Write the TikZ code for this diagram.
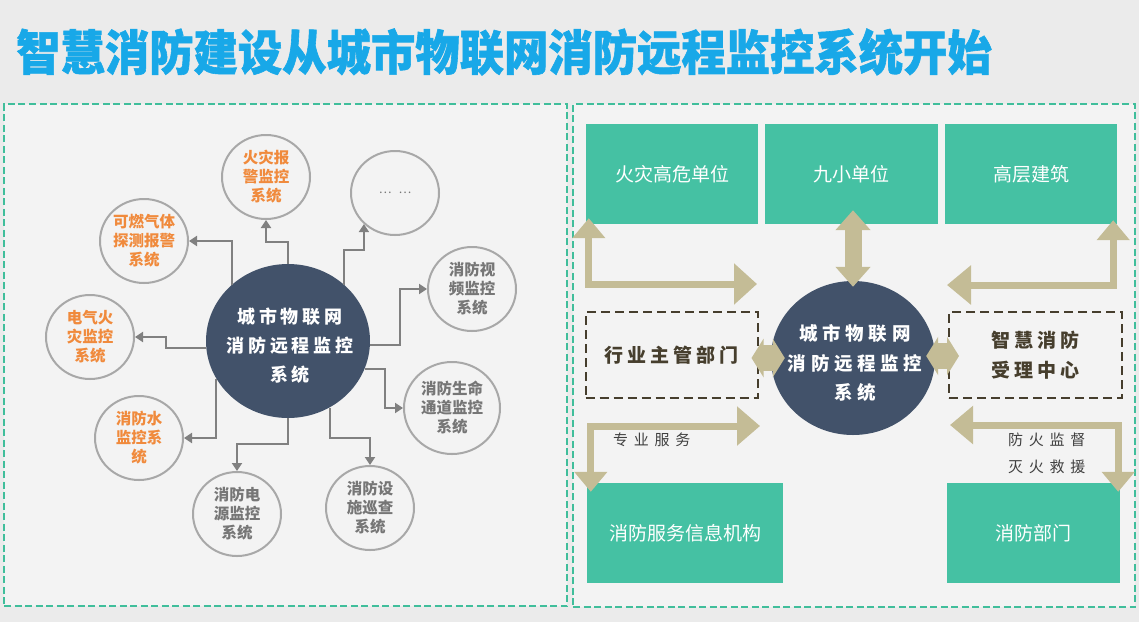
\documentclass[tikz,border=0pt]{standalone}
\usepackage{fontspec}
\setmainfont{Noto Sans CJK SC}
\newfontfamily\cjk{Noto Sans CJK SC}
\newfontfamily\titlefont[FakeStretch=0.92,BoldFeatures={FakeBold=1.2}]{Noto Sans CJK SC}
\newfontfamily\cjkspA[LetterSpace=22]{Noto Sans CJK SC}
\newfontfamily\cjkspB[LetterSpace=25]{Noto Sans CJK SC}
\newfontfamily\cjkspC[LetterSpace=21]{Noto Sans CJK SC}
\newfontfamily\cjkspD[LetterSpace=38]{Noto Sans CJK SC}
\usetikzlibrary{arrows.meta,shapes.geometric,calc}
\definecolor{bgc}{RGB}{235,235,235}
\definecolor{panelbg}{RGB}{243,243,243}
\definecolor{titleblue}{RGB}{24,168,232}
\definecolor{tealc}{RGB}{69,193,163}
\definecolor{teald}{RGB}{64,190,155}
\definecolor{navy}{RGB}{66,82,106}
\definecolor{orangec}{RGB}{240,138,60}
\definecolor{graytext}{RGB}{118,118,118}
\definecolor{circgray}{RGB}{168,168,168}
\definecolor{conngray}{RGB}{128,128,128}
\definecolor{tanc}{RGB}{196,188,150}
\definecolor{brownd}{RGB}{70,62,45}
\definecolor{labeltext}{RGB}{64,64,64}
\begin{document}
\begin{tikzpicture}[x=1pt,y=-1pt,
  panelbox/.style={draw=teald,line width=1.6pt,dash pattern=on 7pt off 3.5pt,fill=panelbg,inner sep=0},
  tealbox/.style={fill=tealc,inner sep=0,minimum height=100pt,text=white,font={\cjk\fontsize{19pt}{23pt}\selectfont}},
  dashbox/.style={draw=brownd,line width=2pt,dash pattern=on 9pt off 5pt,inner sep=0,minimum width=172pt,minimum height=86pt,text=brownd,align=center,font={\cjkspC\bfseries\fontsize{19pt}{30pt}\selectfont}},
  bigcirc/.style={ellipse,fill=navy,inner sep=0,minimum width=164pt,minimum height=154pt},
  bigtext/.style={text=white,align=center,inner sep=0},
  smallc/.style={ellipse,draw=circgray,line width=2pt,fill=panelbg,inner sep=0,minimum width=88pt,minimum height=84pt,align=center,font={\cjk\bfseries\fontsize{15.5pt}{19pt}\selectfont}},
  orangetext/.style={text=orangec},
  graytxt/.style={text=graytext},
  conn/.style={draw=conngray,line width=2pt,-{Triangle[width=10pt,length=8pt]}},
  tanthin/.style={draw=tanc,line width=7pt},
  lbl/.style={text=labeltext,inner sep=0,anchor=west,font={\cjkspD\fontsize{15pt}{18pt}\selectfont}}
]
\useasboundingbox (0,0) rectangle (1139,622);
\fill[bgc] (0,0) rectangle (1139,622);

% title
\node[anchor=west,inner sep=0,text=titleblue,font={\titlefont\bfseries\fontsize{48.2pt}{52pt}\selectfont}] (title) at (16,52) {智慧消防建设从城市物联网消防远程监控系统开始};

% panels
\node[panelbox,minimum width=563pt,minimum height=502pt] (leftpanel) at (285.5,355) {};
\node[panelbox,minimum width=562pt,minimum height=503pt] (rightpanel) at (854,355.5) {};

% ---------- left panel ----------
\node[bigcirc] (lc) at (288,341) {};
\node[smallc,orangetext] (s1) at (266,177) {火灾报\\警监控\\系统};
\node[smallc,graytxt,font={\cjk\fontsize{12pt}{14pt}\selectfont}] (s2) at (395,193) {…\hspace{7pt}…};
\node[smallc,orangetext] (s3) at (144,241) {可燃气体\\探测报警\\系统};
\node[smallc,graytxt] (s4) at (472,289) {消防视\\频监控\\系统};
\node[smallc,orangetext] (s5) at (90,337) {电气火\\灾监控\\系统};
\node[smallc,graytxt,minimum width=96pt,minimum height=92pt] (s6) at (452,408) {消防生命\\通道监控\\系统};
\node[smallc,orangetext] (s7) at (139,438) {消防水\\监控系\\统};
\node[smallc,graytxt] (s8) at (237,514) {消防电\\源监控\\系统};
\node[smallc,graytxt] (s9) at (370,508) {消防设\\施巡查\\系统};

\draw[conn] (lc.north) -- ++(0,-22) -| (s1.south);
\draw[conn] (lc.135) |- (s3.east);
\draw[conn] (lc.45) -- ++(0,-35) -| (s2.225);
\draw[conn] (lc.-3) -- ++(30,0) |- (s4.west);
\draw[conn] (lc.185) -- ++(-40,0) |- (s5.east);
\draw[conn] (lc.-20) -- ++(20,0) |- (s6.west);
\draw[conn] (lc.208) |- (s7.east);
\draw[conn] (lc.south) -- ++(0,26) -| (s8.north);
\draw[conn] (lc.-58) -- ++(0,30) -| (s9.north);

\node[bigtext,font={\cjkspA\bfseries\fontsize{18pt}{29pt}\selectfont}] (lct) at (290,346) {城市物联网\\消防远程监控\\系统};

% ---------- right panel ----------
\node[tealbox,minimum width=172pt] (b1) at (672,174) {火灾高危单位};
\node[tealbox,minimum width=173pt] (b2) at (851.5,174) {九小单位};
\node[tealbox,minimum width=172pt] (b3) at (1031,174) {高层建筑};
\node[tealbox,minimum width=196pt] (b4) at (685,533) {消防服务信息机构};
\node[tealbox,minimum width=173pt] (b5) at (1033.5,533) {消防部门};

\node[dashbox] (d1) at (671.5,355) {行业主管部门};
\node[dashbox,minimum width=173pt] (d2) at (1035.5,355) {智慧消防\\受理中心};

\node[bigcirc] (rc) at (853,358) {};

% tan arrows
\coordinate (a1s) at ($(b1.south west)+(3,-6)$);
\coordinate (a1e) at (757,284);
\draw[tanthin,{Triangle[width=32pt,length=20pt]}-{Triangle[width=40pt,length=23pt]}] (a1s) |- (a1e);

\coordinate (a3s) at ($(b3.south east)+(-4,-4)$);
\coordinate (a3e) at (947,285);
\draw[tanthin,{Triangle[width=32pt,length=20pt]}-{Triangle[width=38pt,length=24pt]}] (a3s) |- (a3e);

\coordinate (a4s) at (760,426);
\coordinate (a4e) at ($(b4.north west)+(4,9)$);
\draw[tanthin,{Triangle[width=38pt,length=23pt]}-{Triangle[width=32pt,length=20pt]}] (a4s) -| (a4e);

\coordinate (a5s) at (950,425);
\coordinate (a5e) at ($(b5.north east)+(-2,9)$);
\draw[tanthin,{Triangle[width=37pt,length=23pt]}-{Triangle[width=32pt,length=20pt]}] (a5s) -| (a5e);

\draw[draw=tanc,line width=17pt,{Triangle[width=34pt,length=20pt]}-{Triangle[width=34pt,length=20pt]}] ($(b2.south)+(1.5,-14)$) -- ($(rc.north)+(0,6)$);

\draw[draw=tanc,line width=26pt,{Triangle[width=38pt,length=12pt]}-{Triangle[width=38pt,length=12pt]}] ($(d1.east)+(-7,3)$) -- ($(rc.west)+(14,0)$);
\draw[draw=tanc,line width=26pt,{Triangle[width=38pt,length=12pt]}-{Triangle[width=38pt,length=12pt]}] ($(rc.east)+(-9,-2)$) -- ($(d2.west)+(11,1)$);

\node[bigtext,font={\cjkspB\bfseries\fontsize{18.5pt}{29.5pt}\selectfont}] (rct) at (855,363) {城市物联网\\消防远程监控\\系统};

% labels
\node[lbl] (l1) at (613,440) {专业服务};
\node[lbl] (l2) at (1008,440) {防火监督};
\node[lbl] (l3) at (1008,467) {灭火救援};
\end{tikzpicture}
\end{document}
